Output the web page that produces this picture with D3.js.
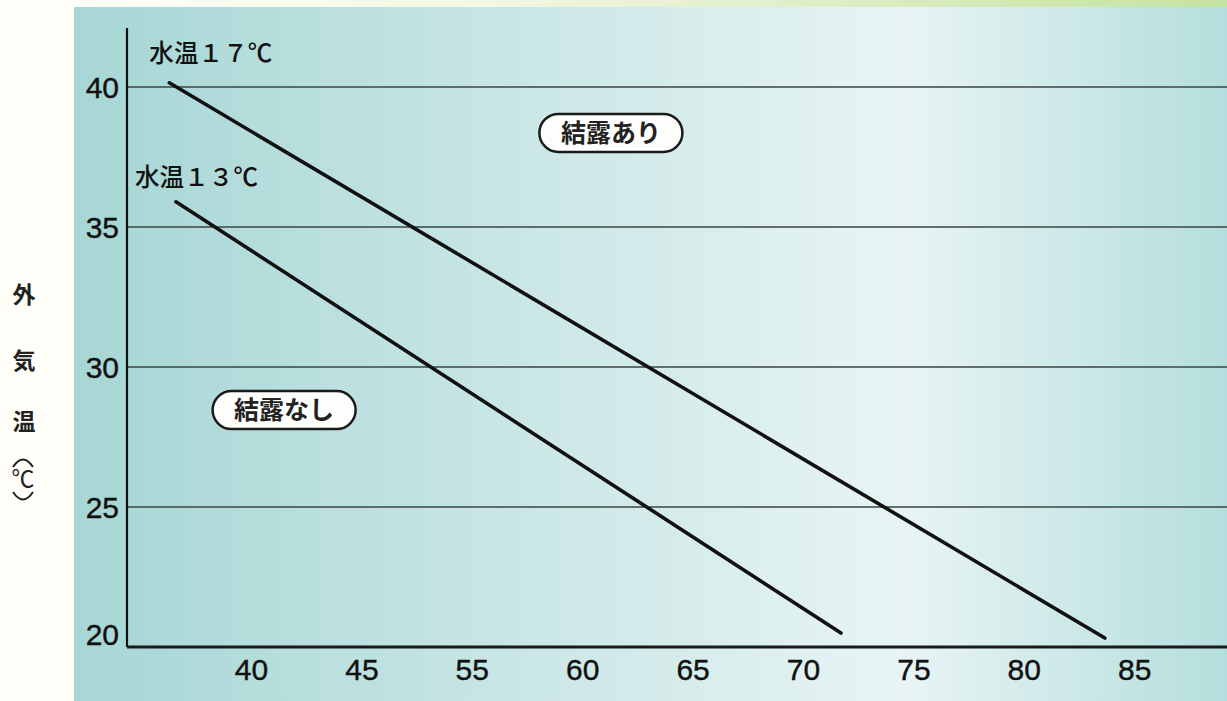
<!DOCTYPE html>
<html><head><meta charset="utf-8">
<script src="https://cdn.jsdelivr.net/npm/d3@7"></script>
<style>html,body{margin:0;padding:0;background:#fffef8;overflow:hidden}</style>
</head><body>
<svg id="c" width="1227" height="701"></svg>
<script>
// ---- data ----
const xTicks = [40, 45, 55, 60, 65, 70, 75, 80, 85];
const yTicks = [20, 25, 30, 35, 40];
const yGrid = [25, 30, 35, 40];
const seriesNames = ["水温１７℃", "水温１３℃"];
const series17 = [[36.3, 40.15], [83.67, 20.32]];
const series13 = [[36.6, 35.9], [71.72, 20.5]];
const regionLabels = ["結露あり", "結露なし"];
const regionPos = [[61.3, 38.36], [41.5, 28.46]];
const yTitle = ["外", "気", "温"];

const W = 1227, H = 701;
const svg = d3.select("#c");
const defs = svg.append("defs");
const g1 = defs.append("linearGradient").attr("id", "panel").attr("x1", "0").attr("x2", "1").attr("y1", "0").attr("y2", "0");
[[0, "#a6d6d5"], [0.35, "#c6e5e4"], [0.72, "#e8f4f4"], [1, "#b4dedd"]].forEach(s => g1.append("stop").attr("offset", s[0]).attr("stop-color", s[1]));
const g2 = defs.append("linearGradient").attr("id", "top").attr("x1", "0").attr("x2", "1");
[[0, "#fffef8"], [0.35, "#f4f7e4"], [1, "#c4e2a2"]].forEach(s => g2.append("stop").attr("offset", s[0]).attr("stop-color", s[1]));

svg.append("rect").attr("x", 0).attr("y", 0).attr("width", W).attr("height", H).attr("fill", "#fffef8");
svg.append("rect").attr("x", 74).attr("y", 0).attr("width", W - 74).attr("height", 8).attr("fill", "url(#top)");
svg.append("rect").attr("x", 74).attr("y", 7).attr("width", W - 74).attr("height", H - 7).attr("fill", "url(#panel)");

const x0 = 251, step = 110.4;
const x = d3.scaleLinear().domain(xTicks).range(xTicks.map((d, i) => x0 + i * step));
const y = d3.scaleLinear().domain([20, 40]).range([647, 87]);
const axisLeft = 127;
const numFont = "Liberation Sans, Arial, sans-serif";
const jpFont = "Noto Sans CJK JP, sans-serif";

// grid
svg.append("g").selectAll("line").data(yGrid).join("line")
  .attr("x1", axisLeft).attr("x2", W).attr("y1", d => y(d)).attr("y2", d => y(d))
  .attr("stroke", "#3a4444").attr("stroke-width", 1.4);

// y axis line
svg.append("line").attr("x1", axisLeft).attr("x2", axisLeft).attr("y1", 28).attr("y2", y(20))
  .attr("stroke", "#111").attr("stroke-width", 2.2);
// x axis (D3 axis, no ticks)
const xAxis = svg.append("g").attr("transform", `translate(0,${y(20)})`)
  .call(d3.axisBottom(x).tickValues(xTicks).tickSize(0).tickPadding(9).tickFormat(d => String(d)));
xAxis.select(".domain").attr("d", `M${axisLeft},0H${W}`).attr("stroke", "#1a1a1a").attr("stroke-width", 3);
xAxis.selectAll("text").attr("font-family", numFont).attr("font-size", 30).attr("fill", "#111")
  .attr("stroke", "#111").attr("stroke-width", 0.4).attr("dy", "0.8em");

// y tick labels
svg.append("g").selectAll("text").data(yTicks).join("text")
  .attr("x", 119).attr("y", d => y(d) + (d === 20 ? -13 : 0)).attr("dy", "0.36em")
  .attr("text-anchor", "end").attr("font-family", numFont)
  .attr("font-size", 30).attr("fill", "#111").attr("stroke", "#111").attr("stroke-width", 0.4).text(d => d);

// lines
const line = d3.line().x(d => x(d[0])).y(d => y(d[1]));
[series17, series13].forEach(s => {
  svg.append("path").attr("d", line(s)).attr("fill", "none").attr("stroke", "#111").attr("stroke-width", 3.6).attr("stroke-linecap", "round");
});
// series labels
const labOff = [[-20, -30], [-41, -25]];
[series17, series13].forEach((s, i) => {
  svg.append("text").attr("x", x(s[0][0]) + labOff[i][0]).attr("y", y(s[0][1]) + labOff[i][1]).attr("dy", "0.36em")
    .attr("font-family", jpFont).attr("font-weight", 500).attr("font-size", 24.5).attr("fill", "#111")
    .attr("textLength", 123).attr("lengthAdjust", "spacing")
    .text(seriesNames[i]);
});

// region labels
regionLabels.forEach((t, i) => {
  const cx = x(regionPos[i][0]), cy = y(regionPos[i][1]);
  const w = 143, h = 38;
  svg.append("rect").attr("x", cx - w / 2).attr("y", cy - h / 2).attr("width", w).attr("height", h)
    .attr("rx", h / 2).attr("fill", "#fdfdfb").attr("stroke", "#1a1a1a").attr("stroke-width", 2.5);
  svg.append("text").attr("x", cx).attr("y", cy).attr("dy", "0.36em").attr("text-anchor", "middle")
    .attr("font-family", jpFont).attr("font-weight", "bold").attr("font-size", 25).attr("fill", "#222")
    .text(t);
});

// y title
const ty = [295, 361, 422];
yTitle.forEach((c, i) => {
  svg.append("text").attr("x", 24).attr("y", ty[i]).attr("dy", "0.36em").attr("text-anchor", "middle")
    .attr("font-family", jpFont).attr("font-weight", "bold").attr("font-size", 23).attr("fill", "#222").text(c);
});
svg.append("text").attr("x", 23).attr("y", 479).attr("dy", "0.36em").attr("text-anchor", "middle")
  .attr("font-size", 23).attr("font-family", jpFont).attr("fill", "#222").text("℃");
// vertical-form parentheses around ℃
svg.append("path").attr("d", "M13,467 Q23,452 33,467").attr("fill", "none").attr("stroke", "#222").attr("stroke-width", 2);
svg.append("path").attr("d", "M13,492 Q23,507 33,492").attr("fill", "none").attr("stroke", "#222").attr("stroke-width", 2);
</script>
</body></html>
